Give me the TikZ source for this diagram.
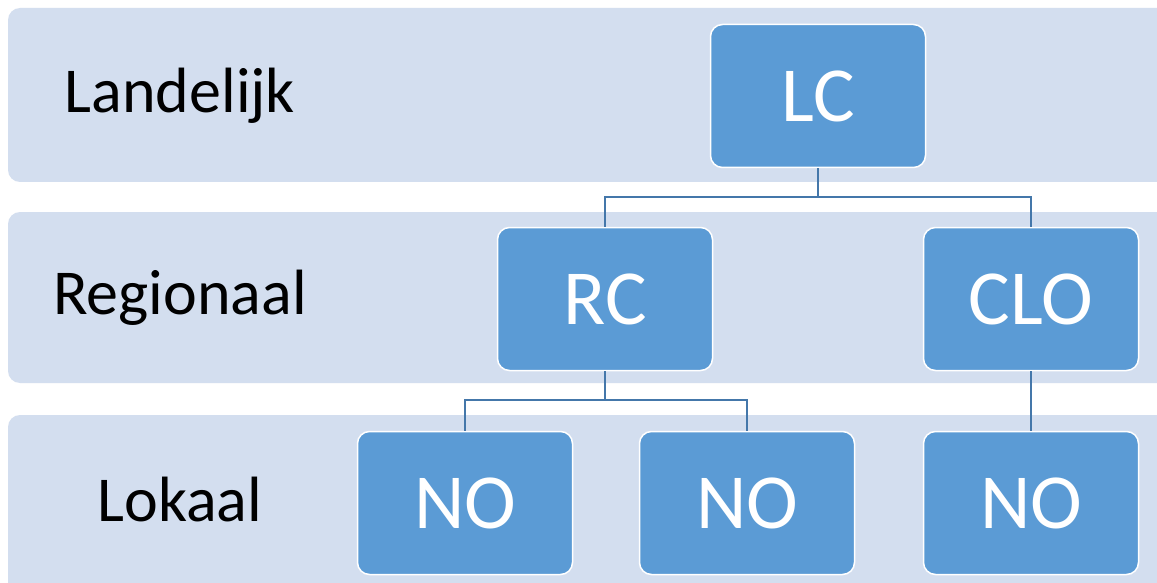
\documentclass[tikz,border=0pt]{standalone}
\usepackage{fontspec}
\setmainfont{Carlito}
\definecolor{bandblue}{RGB}{211,222,239}
\definecolor{boxblue}{RGB}{91,155,213}
\definecolor{lineblue}{RGB}{68,119,170}
\tikzset{
  band/.style={fill=bandblue,rounded corners=12pt},
  level/.style={font=\fontsize{64}{70}\selectfont,text=black},
  unit/.style={draw=white,line width=1.5pt,fill=boxblue,rounded corners=12pt,
    minimum width=215pt,minimum height=143pt,inner sep=0pt,
    font=\fontsize{78}{84}\selectfont,text=white},
  link/.style={draw=lineblue,line width=1.6pt}
}
\begin{document}
\begin{tikzpicture}[x=1pt,y=-1pt]
    \clip (0,0) rectangle (1157,583);
    \fill[white] (0,0) rectangle (1157,583);

    % the three levels
    \path[band] (8,8) rectangle (1180,182);
    \path[band] (8,212) rectangle (1180,383);
    \path[band] (8,415) rectangle (1180,620);

    \node[level] (landelijk) at (180,96) {Landelijk};
    \node[level] (regionaal) at (180,298) {Regionaal};
    \node[level] (lokaal)    at (180,500) {Lokaal};

    % the units
    \node[unit] (LC)  at (818,96)   {LC};
    \node[unit] (RC)  at (605,299)  {RC};
    \node[unit] (CLO) at (1031,299) {CLO};
    \node[unit] (NOa) at (465,503)  {NO};
    \node[unit] (NOb) at (747,503)  {NO};
    \node[unit] (NOc) at (1031,503) {NO};

    % the lines between them
    \coordinate (splitLC) at (818,197);
    \coordinate (splitRC) at (605,400);
    \draw[link] (LC.south) -- (splitLC) -| (RC.north);
    \draw[link] (splitLC) -| (CLO.north);
    \draw[link] (RC.south) -- (splitRC) -| (NOa.north);
    \draw[link] (splitRC) -| (NOb.north);
    \draw[link] (CLO.south) -- (NOc.north);
\end{tikzpicture}
\end{document}
